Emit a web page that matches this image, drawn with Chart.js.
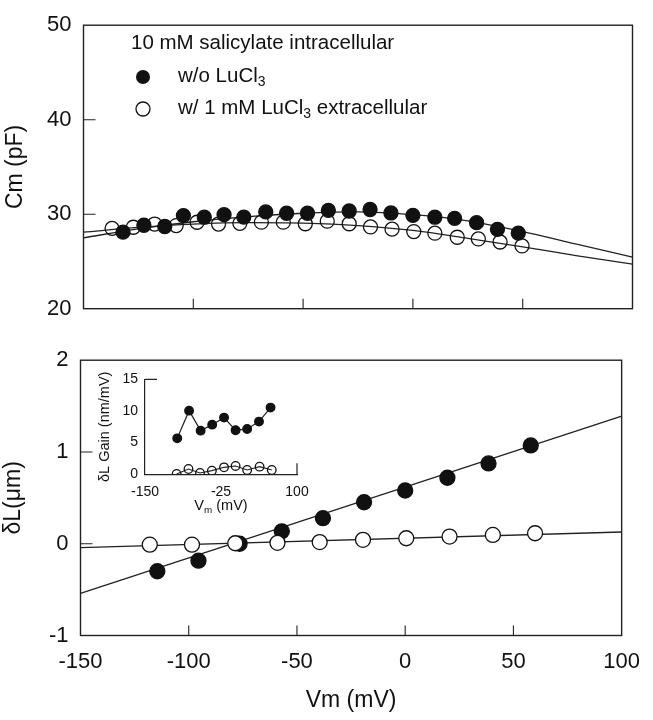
<!DOCTYPE html>
<html>
<head>
<meta charset="utf-8">
<script src="https://cdn.jsdelivr.net/npm/chart.js@4.4.1/dist/chart.umd.min.js"></script>
<style>
  html, body { margin: 0; padding: 0; background: #fff; }
  #wrap { position: relative; width: 653px; height: 720px; }
  #wrap canvas { position: absolute; }
</style>
</head>
<body>
<div id="wrap">
  <canvas id="cmChart" width="653" height="335" style="left:0;top:0"></canvas>
  <canvas id="dlChart" width="653" height="385" style="left:0;top:335px"></canvas>
  <canvas id="gainChart" width="230" height="160" style="left:90px;top:360px"></canvas>
</div>
<script>
// Top panel: Cm vs Vm
const cmFilledV = [-132, -122.5, -113, -104.5, -95, -86, -77, -67, -57.5, -48, -38.5, -29, -19.5, -10, 0, 10, 19, 29, 38.5, 48];
const cmFilled  = [28.1, 28.83, 28.7, 29.85, 29.68, 29.95, 29.7, 30.24, 30.1, 30.1, 30.4, 30.34, 30.5, 30.13, 29.88, 29.68, 29.56, 29.1, 28.4, 28.0];
const cmOpenV = [-137, -127.3, -117.6, -107.8, -98.3, -88.5, -78.8, -69, -59, -49, -39, -29, -19.3, -9.5, 0.4, 10, 20.2, 29.8, 39.7, 49.7];
const cmOpen  = [28.5, 28.62, 28.96, 28.8, 29.15, 28.96, 29.03, 29.16, 29.16, 28.99, 29.26, 28.99, 28.65, 28.42, 28.16, 27.99, 27.56, 27.38, 27.06, 26.64];
const fitV = [-150, -125, -100, -75, -50, -25, 0, 25, 50, 75, 100];
const cmFilledFit = [27.5, 28.45, 29.2, 29.75, 30.1, 30.25, 29.95, 29.3, 28.15, 26.8, 25.46];
const cmOpenFit   = [28.1, 28.6, 28.95, 29.1, 29.05, 28.8, 28.28, 27.45, 26.55, 25.6, 24.71];

// Bottom panel: deltaL vs Vm
const dlFilledV = [-114.5, -95.5, -76.5, -57, -38, -19, 0, 19.5, 38.5, 58];
const dlFilled  = [-0.30, -0.185, 0.0, 0.135, 0.278, 0.452, 0.58, 0.719, 0.875, 1.071];
const dlOpenV = [-118, -98.5, -78.5, -59, -39.5, -19.5, 0.5, 20.5, 40.5, 60];
const dlOpen  = [-0.01, -0.01, 0.005, 0.01, 0.018, 0.043, 0.06, 0.078, 0.096, 0.114];
const dlLineV = [-150, 100];
const dlFilledLine = [-0.54, 1.39];
const dlOpenLine   = [-0.043, 0.128];

// Inset: deltaL gain
const gainFilledV = [-97, -77.5, -58.5, -39.5, -20, -1, 18, 37.5, 56.5];
const gainFilled  = [5.68, 10.05, 6.89, 7.84, 8.95, 6.95, 7.16, 8.32, 10.53];
const gainOpenV = [-98, -78.5, -59.5, -40, -20, -1, 18, 38.5, 58.5];
const gainOpen  = [0.05, 0.84, 0.21, 0.58, 1.1, 1.32, 0.68, 1.21, 0.68];

// Tick labels
const vmTicks = [-150, -100, -50, 0, 50, 100];
const cmTicks = [20, 30, 40, 50];
const dlTicks = [-1, 0, 1, 2];
const gainVTicks = [-150, -25, 100];
const gainTicks = [0, 5, 10, 15];

const FONT = '"Liberation Sans", Arial, Helvetica, sans-serif';
const INK = '#111';
const LINE = '#222';

Chart.defaults.font.family = FONT;
Chart.defaults.color = INK;

const pts = (xs, ys) => xs.map((x, i) => ({ x: x, y: ys[i] }));
const setTicks = arr => scale => { scale.ticks = arr.map(v => ({ value: v })); };

function scatterSet(xs, ys, r, fill) {
  return {
    data: pts(xs, ys), showLine: false,
    pointRadius: r, pointHoverRadius: r,
    pointBackgroundColor: fill, pointBorderColor: INK, pointBorderWidth: 1.3
  };
}
function lineSet(xs, ys, smooth) {
  return {
    data: pts(xs, ys), showLine: true, pointRadius: 0,
    borderColor: LINE, borderWidth: 1.3,
    cubicInterpolationMode: smooth ? 'monotone' : 'default'
  };
}

// frame + inward tick marks for the two big panels
const framePlugin = {
  id: 'frame',
  afterDraw(chart) {
    const { ctx, chartArea: a, scales } = chart;
    ctx.save();
    ctx.strokeStyle = LINE;
    ctx.lineWidth = 1.4;
    ctx.strokeRect(a.left, a.top, a.right - a.left, a.bottom - a.top);
    ctx.lineWidth = 1.1;
    ctx.beginPath();
    vmTicks.slice(1, -1).forEach(v => {
      const px = scales.x.getPixelForValue(v);
      ctx.moveTo(px, a.bottom); ctx.lineTo(px, a.bottom - 10);
    });
    scales.y.ticks.slice(1, -1).forEach(t => {
      const py = scales.y.getPixelForValue(t.value);
      ctx.moveTo(a.left, py); ctx.lineTo(a.left + 12, py);
    });
    ctx.stroke();
    ctx.restore();
  }
};

function drawParts(ctx, x, y, parts, size) {
  parts.forEach(([t, sub]) => {
    ctx.font = (sub ? size * 0.68 : size) + 'px ' + FONT;
    ctx.fillText(t, x, sub ? y + size * 0.32 : y);
    x += ctx.measureText(t).width;
  });
  return x;
}

const legendPlugin = {
  id: 'cmLegend',
  afterDraw(chart) {
    const ctx = chart.ctx;
    ctx.save();
    ctx.fillStyle = INK;
    ctx.textBaseline = 'middle';
    ctx.textAlign = 'left';
    drawParts(ctx, 131, 43, [['10 mM salicylate intracellular', false]], 20.5);
    drawParts(ctx, 178, 76, [['w/o LuCl', false], ['3', true]], 20.5);
    drawParts(ctx, 178, 108, [['w/ 1 mM LuCl', false], ['3', true], [' extracellular', false]], 20.5);
    ctx.lineWidth = 1.3;
    ctx.strokeStyle = INK;
    ctx.beginPath(); ctx.arc(143, 77, 7, 0, Math.PI * 2); ctx.fill();
    ctx.beginPath(); ctx.arc(143, 109, 7, 0, Math.PI * 2); ctx.stroke();
    ctx.restore();
  }
};

const insetPlugin = {
  id: 'insetExtras',
  afterDraw(chart) {
    const { ctx, chartArea: a, scales } = chart;
    ctx.save();
    ctx.strokeStyle = LINE;
    ctx.lineWidth = 1.2;
    ctx.beginPath();
    const yTop = scales.y.getPixelForValue(15);
    ctx.moveTo(a.left, yTop); ctx.lineTo(a.left + 12, yTop);
    const xEnd = scales.x.getPixelForValue(100);
    ctx.moveTo(xEnd, a.bottom); ctx.lineTo(xEnd, a.bottom - 11);
    ctx.stroke();
    ctx.fillStyle = INK;
    ctx.textBaseline = 'middle';
    ctx.textAlign = 'left';
    ctx.font = '14.5px ' + FONT;
    const parts = [['V', false], ['m', true], [' (mV)', false]];
    let w = 0;
    parts.forEach(([t, sub]) => {
      ctx.font = (sub ? 14.5 * 0.68 : 14.5) + 'px ' + FONT;
      w += ctx.measureText(t).width;
    });
    drawParts(ctx, 131 - w / 2, 146, parts, 14.5);
    ctx.restore();
  }
};

const baseOpts = {
  responsive: false,
  animation: false,
  plugins: { legend: { display: false }, tooltip: { enabled: false } }
};

new Chart(document.getElementById('cmChart'), {
  type: 'scatter',
  data: {
    datasets: [
      scatterSet(cmFilledV, cmFilled, 7, INK),
      scatterSet(cmOpenV, cmOpen, 7, 'rgba(0,0,0,0)'),
      lineSet(fitV, cmFilledFit, true),
      lineSet(fitV, cmOpenFit, true)
    ]
  },
  options: Object.assign({}, baseOpts, {
    layout: { padding: { top: 13.5, right: 20.5, bottom: 26.3, left: 0 } },
    scales: {
      x: { type: 'linear', min: -150, max: 100, display: false },
      y: {
        min: 20, max: 50,
        afterBuildTicks: setTicks(cmTicks),
        afterFit: s => { s.width = 83.5; },
        grid: { display: false, drawTicks: false },
        border: { display: false },
        ticks: { font: { size: 22 }, color: INK, padding: 12, autoSkip: false },
        title: { display: true, text: 'Cm (pF)', font: { size: 23 }, color: INK, padding: { top: 2, bottom: 0 } }
      }
    }
  }),
  plugins: [framePlugin, legendPlugin]
});

new Chart(document.getElementById('dlChart'), {
  type: 'scatter',
  data: {
    datasets: [
      scatterSet(dlOpenV, dlOpen, 7.5, '#fff'),
      scatterSet(dlFilledV, dlFilled, 7.5, INK),
      lineSet(dlLineV, dlFilledLine, false),
      lineSet(dlLineV, dlOpenLine, false)
    ]
  },
  options: Object.assign({}, baseOpts, {
    layout: { padding: { top: 22.5, right: 23.5, bottom: 0, left: 0 } },
    scales: {
      x: {
        type: 'linear', min: -150, max: 100,
        afterBuildTicks: setTicks(vmTicks),
        afterFit: s => { s.height = 84.5; },
        grid: { display: false, drawTicks: false },
        border: { display: false },
        ticks: { font: { size: 22 }, color: INK, padding: 13, autoSkip: false, maxRotation: 0 },
        title: { display: true, text: 'Vm (mV)', font: { size: 23 }, color: INK, padding: { top: 0, bottom: 6 } }
      },
      y: {
        min: -1, max: 2,
        afterBuildTicks: setTicks(dlTicks),
        afterFit: s => { s.width = 80.5; },
        grid: { display: false, drawTicks: false },
        border: { display: false },
        ticks: { font: { size: 22 }, color: INK, padding: 12, autoSkip: false },
        title: { display: true, text: 'δL(μm)', font: { size: 23 }, color: INK, padding: { top: 0, bottom: 0 } }
      }
    }
  }),
  plugins: [framePlugin]
});

new Chart(document.getElementById('gainChart'), {
  type: 'scatter',
  data: {
    datasets: [
      Object.assign(scatterSet(gainFilledV, gainFilled, 4.3, INK), { showLine: true, borderColor: LINE, borderWidth: 1.2 }),
      Object.assign(scatterSet(gainOpenV, gainOpen, 4.3, 'rgba(0,0,0,0)'), { showLine: true, borderColor: LINE, borderWidth: 1.1 })
    ]
  },
  options: Object.assign({}, baseOpts, {
    layout: { padding: { top: 19.3, right: 23, bottom: 0, left: 0 } },
    scales: {
      x: {
        type: 'linear', min: -150, max: 100,
        afterBuildTicks: setTicks(gainVTicks),
        afterFit: s => { s.height = 45.7; },
        grid: { display: false, drawTicks: false },
        border: { display: true, color: LINE, width: 1.2 },
        ticks: { font: { size: 14 }, color: INK, padding: 9, autoSkip: false, maxRotation: 0 }
      },
      y: {
        min: 0, max: 15,
        afterBuildTicks: setTicks(gainTicks),
        afterFit: s => { s.width = 55; },
        grid: { display: false, drawTicks: false },
        border: { display: true, color: LINE, width: 1.2 },
        ticks: { font: { size: 14 }, color: INK, padding: 7, autoSkip: false },
        title: { display: true, text: 'δL Gain (nm/mV)', font: { size: 14.5 }, color: INK, padding: { top: 6.3, bottom: 0 } }
      }
    }
  }),
  plugins: [insetPlugin]
});
</script>
</body>
</html>
